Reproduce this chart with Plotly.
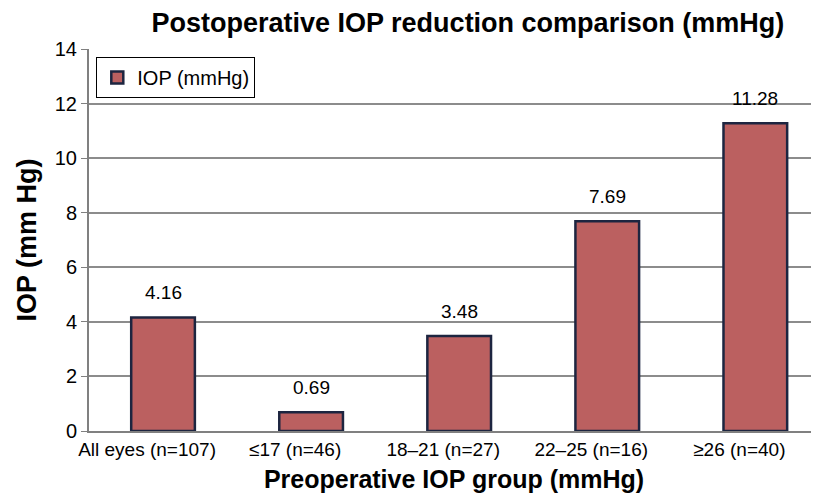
import plotly.graph_objects as go

groups = ["All eyes (n=107)", "≤17 (n=46)", "18–21 (n=27)", "22–25 (n=16)", "≥26 (n=40)"]
iop_reduction = [4.16, 0.69, 3.48, 7.69, 11.28]
labels = ["4.16", "0.69", "3.48", "7.69", "11.28"]

fig = go.Figure()
fig.add_trace(go.Bar(
    x=groups,
    y=iop_reduction,
    name="IOP (mmHg)",
    width=0.43,
    marker=dict(color="#bb6060", line=dict(color="#1d2540", width=2.5)),
))

# value labels sit a bit higher above the bars than plotly's default outside text
for g, v, t in zip(groups, iop_reduction, labels):
    fig.add_annotation(x=g, y=v, text=t, showarrow=False, yanchor="bottom",
                       yshift=12, font=dict(size=19, color="black"))

# page body has an 8px margin, so the figure is sized to fit the window
fig.update_layout(
    width=811,
    height=487,
    paper_bgcolor="white",
    plot_bgcolor="white",
    font=dict(family="Liberation Sans, Arial", color="black"),
    margin=dict(l=81, r=0, t=41, b=64, autoexpand=False),
    title=dict(text="<b>Postoperative IOP reduction comparison (mmHg)</b>",
               x=0.567, xanchor="center", y=0.97, yanchor="middle",
               font=dict(size=27)),
    showlegend=True,
    legend=dict(x=0.01, y=0.979, xanchor="left", yanchor="top",
                bordercolor="black", borderwidth=1, bgcolor="white",
                font=dict(size=20)),
)
# the original chart is cut off on the right, so the last category is not fully shown;
# its group labels also sit a little left of the bars
fig.update_xaxes(
    title=dict(text="<b>Preoperative IOP group (mmHg)</b>", font=dict(size=25), standoff=12),
    range=[-0.5, 4.43],
    tickfont=dict(size=19), ticklabelshift=-16,
    showline=True, linecolor="#808080", linewidth=2,
    ticks="", showgrid=False, automargin=False,
)
fig.update_yaxes(
    title=dict(text="<b>IOP (mm Hg)</b>", font=dict(size=27), standoff=10),
    range=[0, 14], dtick=2,
    tickfont=dict(size=20),
    showgrid=True, gridcolor="#8c8c8c", gridwidth=2,
    showline=True, linecolor="#808080", linewidth=2,
    ticks="outside", ticklen=6, tickcolor="#808080",
    zeroline=False, automargin=False,
)

fig.write_html("out.html")
